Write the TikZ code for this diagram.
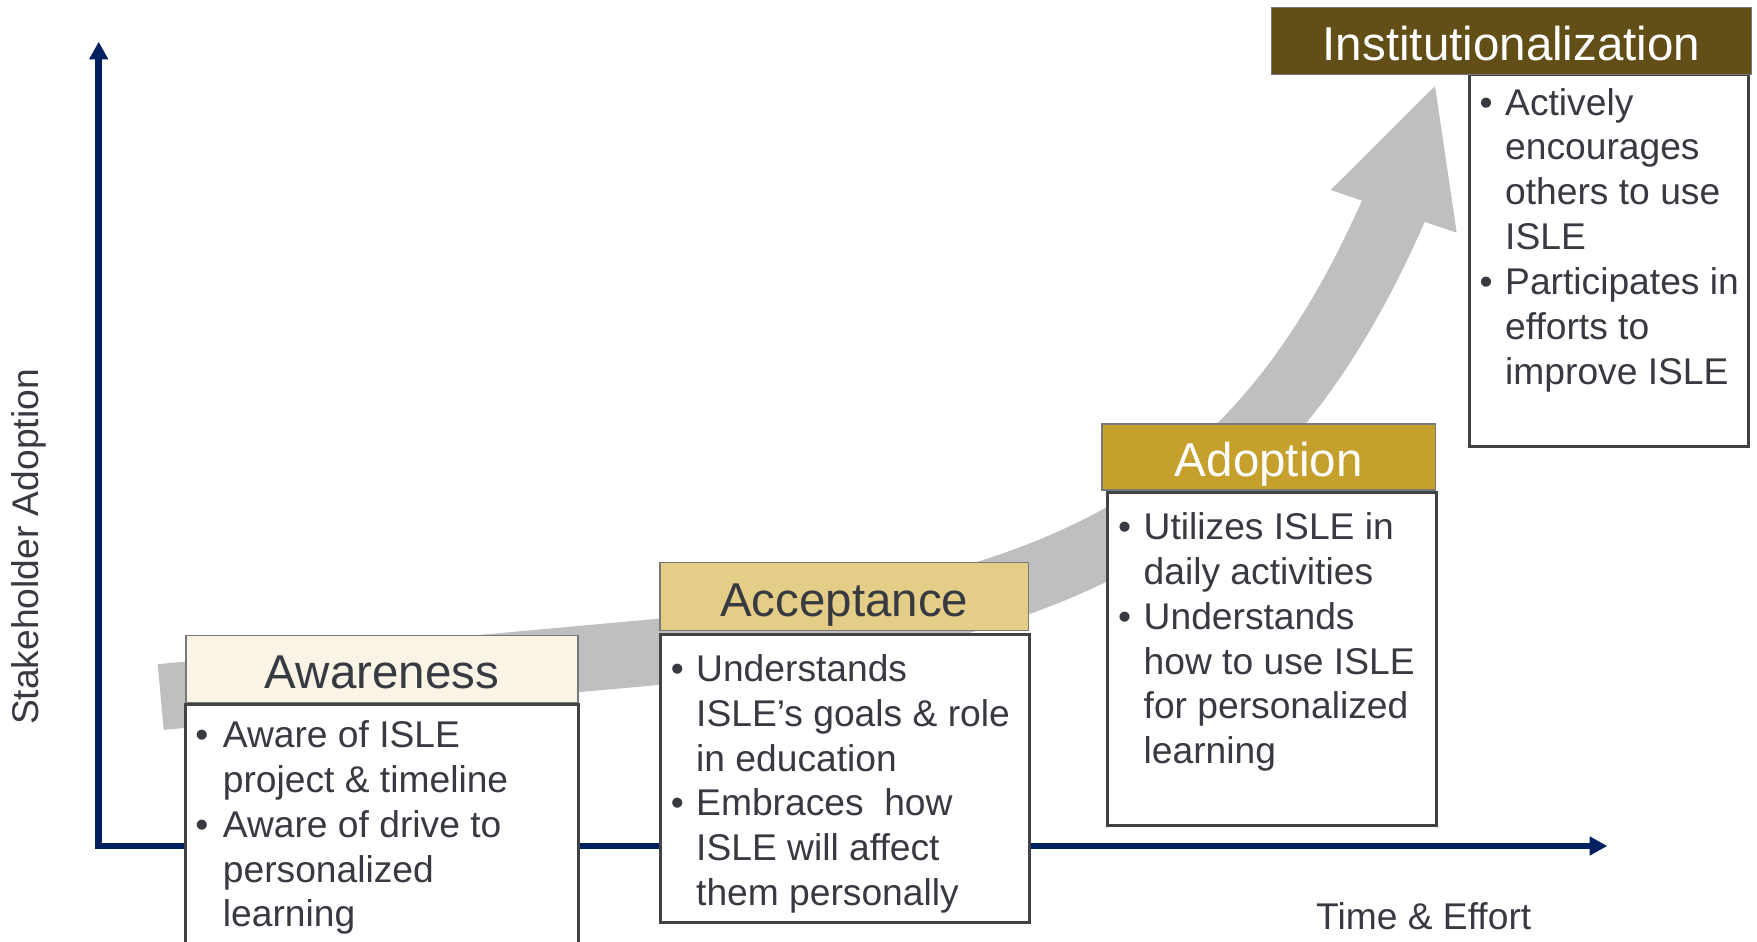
\documentclass[tikz,border=0pt]{standalone}
\usepackage{fontspec}
\setmainfont{Liberation Sans}
\usetikzlibrary{arrows.meta}
\definecolor{navy}{RGB}{0,32,96}
\definecolor{bandgray}{RGB}{191,191,191}
\definecolor{txt}{RGB}{55,58,64}
\definecolor{hdrline}{RGB}{120,120,120}
\definecolor{bodyline}{RGB}{64,66,70}
\definecolor{awfill}{RGB}{250,244,231}
\definecolor{acfill}{RGB}{228,205,134}
\definecolor{adfill}{RGB}{197,160,45}
\definecolor{infill}{RGB}{98,78,23}
\newcommand\hdrfont{\fontsize{47.5}{57}\selectfont}
\newcommand\bodyfont{\fontsize{37.2}{44.85}\selectfont}
\newcommand\txtlines[4]{%
  \foreach \t [count=\i] in {#4} {\node[btxt] (#1\i) at (#2, {#3+(\i-1)*44.85}) {\t};}}
\tikzset{
  hdr/.style={draw=hdrline, line width=1.5pt, inner sep=0pt, text height=39pt, text depth=0pt, font=\hdrfont},
  bodybox/.style={draw=bodyline, line width=3pt, fill=white},
  btxt/.style={anchor=base west, inner sep=0pt, text=txt, font=\bodyfont},
  bul/.style={anchor=base, inner sep=0pt, text=txt, font=\bodyfont},
  axisline/.style={line width=6.5pt, draw=navy, line join=miter, {Triangle[length=17.6pt,width=18pt]}-{Triangle[length=17.6pt,width=18pt]}},
  band/.style={line width=66pt, draw=bandgray},
  lbl/.style={inner sep=0pt, text=txt, font=\bodyfont},
}
\begin{document}
\begin{tikzpicture}[x=1pt,y=-1pt]
\useasboundingbox (0,0) rectangle (1757,942);
\clip (0,0) rectangle (1757,942);
% gray growth arrow
\coordinate (b0) at (160.7,697);
\coordinate (b1) at (640,653.5);
\coordinate (b2) at (1395,207.4);
\coordinate (tip) at (1435,86);
\coordinate (lw) at (1330.7,190);
\coordinate (rw) at (1456.7,232.7);
\draw[band] (b0) -- (b1) .. controls (1058.3,615.7) and (1255,527.7) .. (b2);
\fill[bandgray] (tip) -- (lw) -- (rw) -- cycle;
% axes
\coordinate (ytip) at (98.7,41.7);
\coordinate (O) at (98.7,846);
\coordinate (xtip) at (1607.3,846);
\draw[axisline] (ytip) -- (O) -- (xtip);
\node[lbl, rotate=90, anchor=base] (ylab) at (38.5,547) {Stakeholder Adoption};
\node[lbl, anchor=base west] (xlab) at (1316,929.3) {Time \& Effort};
% Awareness
\draw[bodybox] (185.5,704) rectangle (578,990);
\node[hdr, fill=awfill, text=txt, minimum width=392pt, minimum height=67pt] (aw) at (382,669.2) {Awareness};
\txtlines{awt}{222.7}{747.5}{Aware of ISLE, project \& timeline, Aware of drive to, personalized, learning}
\node[bul] (awb1) at (202,747.5) {•};
\node[bul] (awb2) at (202,837.2) {•};
% Acceptance
\draw[bodybox] (660,634) rectangle (1029.3,922.7);
\node[hdr, fill=acfill, text=txt, minimum width=368.6pt, minimum height=68pt] (ac) at (844.3,596.7) {Acceptance};
\txtlines{act}{696}{681.3}{Understands, ISLE’s goals \& role, in education, Embraces\ \ how, ISLE will affect, them personally}
\node[bul] (acb1) at (677.5,681.3) {•};
\node[bul] (acb2) at (677.5,815.85) {•};
% Adoption
\draw[bodybox] (1107.5,492) rectangle (1436,825.7);
\node[hdr, fill=adfill, text=white, minimum width=333.4pt, minimum height=66pt] (ad) at (1268.7,457) {Adoption};
\txtlines{adt}{1143.5}{539.5}{Utilizes ISLE in, daily activities, Understands, how to use ISLE, for personalized, learning}
\node[bul] (adb1) at (1124.5,539.5) {•};
\node[bul] (adb2) at (1124.5,629.2) {•};
% Institutionalization
\draw[bodybox] (1469,75) rectangle (1748,446);
\node[hdr, fill=infill, text=white, minimum width=479.6pt, minimum height=67.4pt] (in) at (1511.5,41) {Institutionalization};
\txtlines{int}{1505}{115}{Actively, encourages, others to use, ISLE, Participates in, efforts to, improve ISLE}
\node[bul] (inb1) at (1486,115) {•};
\node[bul] (inb2) at (1486,294.4) {•};
\end{tikzpicture}
\end{document}
